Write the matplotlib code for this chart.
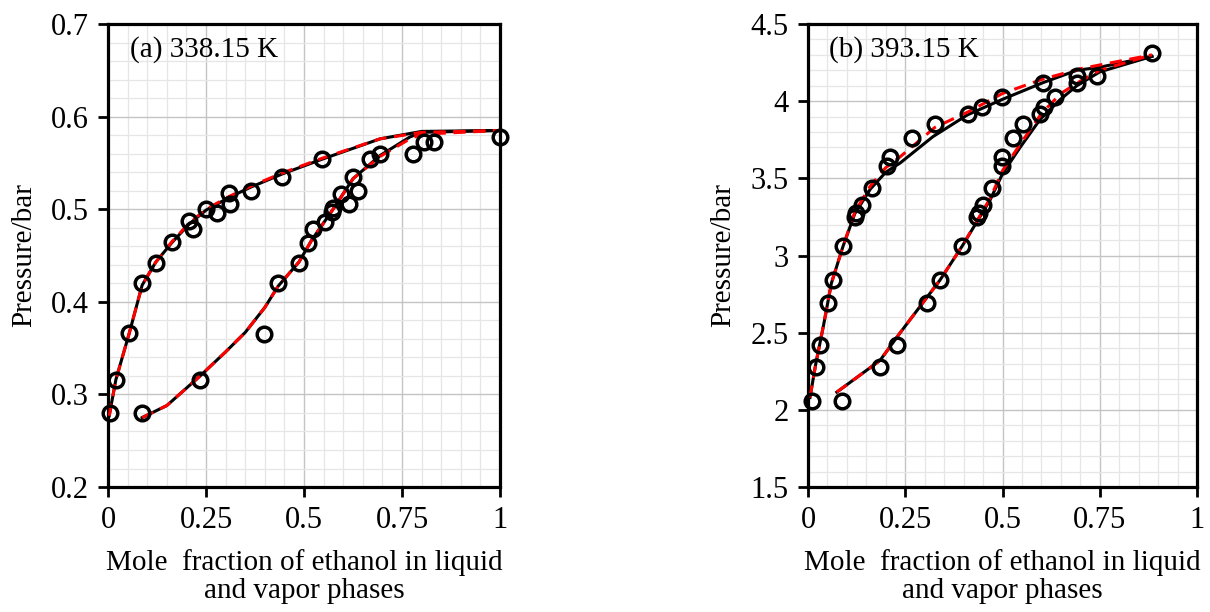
import numpy as np
import matplotlib
matplotlib.use("Agg")
import matplotlib.pyplot as plt
from matplotlib.ticker import MultipleLocator

plt.rcParams["font.family"] = ["Liberation Serif", "DejaVu Serif"]
plt.rcParams["font.size"] = 21

# ── (a) 338.15 K : experimental points ───────────────────────────────────────
a_x_exp = [0.005, 0.02, 0.054, 0.087, 0.122, 0.163, 0.207, 0.217, 0.25, 0.278,
           0.309, 0.311, 0.365, 0.444, 0.546, 1.0]
a_px_exp = [0.280, 0.316, 0.366, 0.420, 0.442, 0.465, 0.487, 0.479, 0.500, 0.496,
            0.517, 0.506, 0.520, 0.535, 0.554, 0.578]
a_y_exp = [0.087, 0.235, 0.398, 0.434, 0.487, 0.510, 0.523, 0.553, 0.571, 0.574,
           0.594, 0.615, 0.625, 0.638, 0.668, 0.694, 0.779, 0.806, 0.832]
a_py_exp = [0.280, 0.316, 0.365, 0.420, 0.442, 0.463, 0.479, 0.486, 0.497, 0.501,
            0.516, 0.506, 0.535, 0.520, 0.554, 0.560, 0.560, 0.573, 0.573]

# (a) model curves (black solid / red dashed)
a_x_mod1 = [0.003, 0.02, 0.054, 0.087, 0.122, 0.163, 0.207, 0.25, 0.31, 0.365,
            0.444, 0.546, 0.694, 0.80, 1.0]
a_px_mod1 = [0.277, 0.316, 0.366, 0.418, 0.443, 0.464, 0.484, 0.499, 0.513, 0.524,
             0.538, 0.554, 0.576, 0.584, 0.585]
a_y_mod1 = [0.087, 0.15, 0.235, 0.30, 0.35, 0.40, 0.434, 0.487, 0.52, 0.574,
            0.625, 0.694, 0.77, 0.80, 1.0]
a_py_mod1 = [0.275, 0.288, 0.320, 0.346, 0.367, 0.394, 0.417, 0.443, 0.467, 0.500,
             0.533, 0.558, 0.578, 0.583, 0.585]
a_x_mod2 = a_x_mod1
a_px_mod2 = [0.277, 0.316, 0.366, 0.418, 0.443, 0.465, 0.485, 0.500, 0.514, 0.525,
             0.539, 0.555, 0.576, 0.583, 0.585]
a_y_mod2 = a_y_mod1
a_py_mod2 = [0.275, 0.288, 0.320, 0.346, 0.367, 0.394, 0.417, 0.443, 0.467, 0.500,
             0.533, 0.557, 0.576, 0.581, 0.585]

# ── (b) 393.15 K : experimental points ───────────────────────────────────────
b_x_exp = [0.01, 0.021, 0.031, 0.051, 0.064, 0.09, 0.121, 0.123, 0.139, 0.165,
           0.203, 0.211, 0.267, 0.326, 0.411, 0.447, 0.498, 0.604, 0.884]
b_px_exp = [2.06, 2.28, 2.42, 2.69, 2.84, 3.06, 3.25, 3.275, 3.33, 3.44,
            3.58, 3.64, 3.76, 3.85, 3.92, 3.96, 4.03, 4.12, 4.31]
b_y_exp = [0.087, 0.185, 0.229, 0.306, 0.339, 0.396, 0.434, 0.44, 0.45, 0.473,
           0.498, 0.498, 0.527, 0.553, 0.596, 0.607, 0.635, 0.691, 0.691, 0.743]
b_py_exp = [2.06, 2.28, 2.42, 2.69, 2.84, 3.06, 3.25, 3.275, 3.33, 3.44,
            3.58, 3.64, 3.76, 3.85, 3.92, 3.96, 4.03, 4.12, 4.16, 4.16]

# (b) model curves
b_x_mod1 = [0.005, 0.02, 0.04, 0.06, 0.09, 0.12, 0.16, 0.20, 0.237, 0.321,
            0.409, 0.498, 0.604, 0.691, 0.75, 0.884]
b_px_mod1 = [2.08, 2.30, 2.55, 2.82, 3.06, 3.27, 3.43, 3.54, 3.60, 3.77,
             3.91, 4.01, 4.12, 4.20, 4.22, 4.29]
b_y_mod1 = [0.074, 0.185, 0.237, 0.339, 0.396, 0.468, 0.50, 0.545, 0.596, 0.648,
            0.691, 0.75, 0.884]
b_py_mod1 = [2.115, 2.32, 2.50, 2.84, 3.06, 3.36, 3.53, 3.70, 3.88, 4.01,
             4.10, 4.19, 4.29]
b_x_mod2 = [0.005, 0.02, 0.04, 0.06, 0.09, 0.12, 0.16, 0.20, 0.237, 0.326,
            0.411, 0.50, 0.60, 0.70, 0.884]
b_px_mod2 = [2.08, 2.30, 2.55, 2.82, 3.06, 3.28, 3.45, 3.57, 3.64, 3.83,
             3.93, 4.05, 4.14, 4.21, 4.30]
b_y_mod2 = [0.074, 0.185, 0.237, 0.339, 0.396, 0.468, 0.50, 0.545, 0.60, 0.65,
            0.70, 0.75, 0.884]
b_py_mod2 = [2.115, 2.32, 2.50, 2.84, 3.06, 3.37, 3.55, 3.72, 3.92, 4.05,
             4.13, 4.20, 4.30]

panels = [
    dict(title="(a) 338.15 K", ylim=(0.2, 0.7), ymaj=0.1, ymin=0.02, yfmt="{:.1f}",
         exp=[(a_x_exp, a_px_exp), (a_y_exp, a_py_exp)],
         mod1=[(a_x_mod1, a_px_mod1), (a_y_mod1, a_py_mod1)],
         mod2=[(a_x_mod2, a_px_mod2), (a_y_mod2, a_py_mod2)],
         rect=[0.0893, 0.2042, 0.3240, 0.7566]),
    dict(title="(b) 393.15 K", ylim=(1.5, 4.5), ymaj=0.5, ymin=0.1, yfmt="{:g}",
         exp=[(b_x_exp, b_px_exp), (b_y_exp, b_py_exp)],
         mod1=[(b_x_mod1, b_px_mod1), (b_y_mod1, b_py_mod1)],
         mod2=[(b_x_mod2, b_px_mod2), (b_y_mod2, b_py_mod2)],
         rect=[0.6678, 0.2042, 0.3215, 0.7566]),
]
x_ticks = [0, 0.25, 0.5, 0.75, 1]
x_tick_labels = ["0", "0.25", "0.5", "0.75", "1"]

fig = plt.figure(figsize=(12.1, 6.12), dpi=100)
for p in panels:
    ax = fig.add_axes(p["rect"])
    ax.set_xlim(0, 1)
    ax.set_ylim(*p["ylim"])
    ax.xaxis.set_major_locator(MultipleLocator(0.25))
    ax.xaxis.set_minor_locator(MultipleLocator(0.05))
    ax.yaxis.set_major_locator(MultipleLocator(p["ymaj"]))
    ax.yaxis.set_minor_locator(MultipleLocator(p["ymin"]))
    ax.grid(which="major", color="#c4c4c4", lw=1.0, zorder=0)
    ax.grid(which="minor", color="#e6e6e6", lw=0.9, zorder=0)
    ax.set_axisbelow(True)

    for xs, ys in p["mod1"]:
        ax.plot(xs, ys, color="black", lw=2.2, zorder=3)
    for xs, ys in p["mod2"]:
        ax.plot(xs, ys, color="red", lw=2.2, ls=(0, (4, 2.5)), zorder=4)
    for xs, ys in p["exp"]:
        ax.plot(xs, ys, "o", ms=10.5, mfc="none", mec="black", mew=2.5,
                clip_on=False, zorder=5)

    ax.set_xticks(x_ticks)
    ax.set_xticklabels(x_tick_labels)
    yt = np.arange(p["ylim"][0], p["ylim"][1] + 1e-9, p["ymaj"])
    ax.set_yticks(yt)
    ax.set_yticklabels([p["yfmt"].format(v) for v in yt])
    ax.tick_params(which="major", direction="out", length=7, width=2.0,
                   labelsize=22, pad=7, top=False, right=False)
    ax.tick_params(which="minor", length=0)
    for s in ax.spines.values():
        s.set_linewidth(2.3)
        s.set_color("black")

    ax.set_xlabel("Mole  fraction of ethanol in liquid\nand vapor phases",
                  fontsize=21, labelpad=10, linespacing=1.1)
    ax.set_ylabel("Pressure/bar", fontsize=21, labelpad=10)
    ax.text(0.055, 0.945, p["title"], transform=ax.transAxes, fontsize=21,
            ha="left", va="center")

fig.savefig("out.png", dpi=100)
